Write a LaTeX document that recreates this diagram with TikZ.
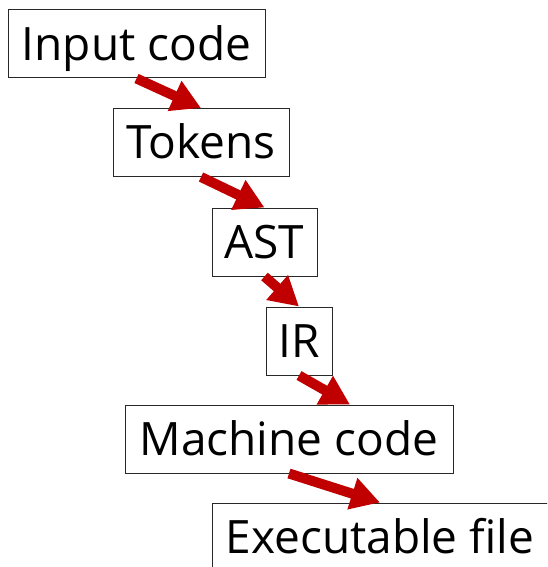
\documentclass[tikz,border=0pt]{standalone}
\usepackage{fontspec}
\setmainfont{Open Sans}
\usetikzlibrary{arrows.meta}
\definecolor{flowred}{RGB}{192,0,0}
\definecolor{boxline}{RGB}{40,40,40}
\tikzset{
  stage/.style={draw=boxline, line width=1pt, fill=white, inner sep=0pt,
    minimum height=68pt, text height=32.5pt, text depth=0pt,
    font=\fontsize{46}{55}\selectfont},
  flow/.style={draw=flowred, line width=10pt,
    -{Triangle[length=29pt,width=31pt]}, fill=flowred}
}
\begin{document}
\begin{tikzpicture}[x=1pt,y=1pt]
  \useasboundingbox (0,0) rectangle (547,-567);
  \begin{scope}
    \clip (0,0) rectangle (547,-567);
    \node[stage, minimum width=257pt] (src) at (136.5,-44) {Input code};
    \node[stage, minimum width=176pt] (tok) at (201,-142.5) {Tokens};
    \node[stage, minimum width=105pt] (ast) at (264.5,-242) {AST};
    \node[stage, minimum width=66pt]  (ir)  at (299,-341) {IR};
    \node[stage, minimum width=328pt] (mc)  at (289,-439) {Machine code};
    % the last box runs past the right edge; its text sits 10pt left of centre
    \node[stage, minimum width=356pt] (exe) at (390,-537) {Executable file\hspace*{20pt}};

    \draw[flow] (src.south) -- (tok.north);
    \draw[flow] (tok.south) -- (ast.north);
    \draw[flow] (ast.south) -- (ir.north);
    \draw[flow] (ir.south) -- ([xshift=61pt]mc.north);
    \draw[flow] (mc.south) -- ([xshift=-10pt]exe.north);
  \end{scope}
\end{tikzpicture}
\end{document}
